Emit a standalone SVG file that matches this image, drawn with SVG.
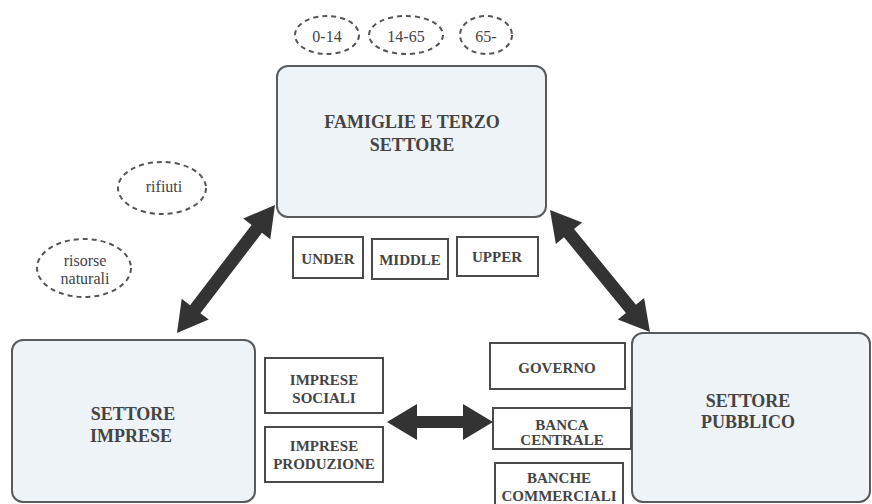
<svg xmlns="http://www.w3.org/2000/svg" width="872" height="504" viewBox="0 0 872 504">
<defs>
<polygon id="arrH" points="0,0 30,-18 30,-6 76,-6 76,-18 106,0 76,18 76,6 30,6 30,18" fill="#333"/>
</defs>
<rect width="872" height="504" fill="#fff"/>
<g fill="#edf3f6" stroke="#5a5a5a" stroke-width="2">
<g id="famiglie"><rect x="277" y="66" width="269" height="151" rx="11"/></g>
<g id="imprese"><rect x="12" y="340" width="243" height="162" rx="11"/></g>
<g id="pubblico"><rect x="632" y="333" width="238" height="169" rx="11"/></g>
</g>
<g fill="none" stroke="#555" stroke-width="2" stroke-dasharray="5 4">
<g id="e014"><ellipse cx="327" cy="35" rx="32" ry="19"/></g>
<g id="e1465"><ellipse cx="406" cy="35" rx="37" ry="19"/></g>
<g id="e65"><ellipse cx="486" cy="35" rx="26" ry="19"/></g>
<g id="rifiuti"><ellipse cx="162" cy="188" rx="44" ry="26"/></g>
<g id="risorse"><ellipse cx="84" cy="268" rx="47" ry="29"/></g>
</g>
<g fill="#fff" stroke="#4a4a4a" stroke-width="2">
<g id="under"><rect x="293" y="237" width="70" height="41"/></g>
<g id="middle"><rect x="372" y="239" width="76" height="40"/></g>
<g id="upper"><rect x="457" y="237" width="81" height="39"/></g>
<g id="sociali"><rect x="265" y="358" width="118" height="55"/></g>
<g id="produzione"><rect x="265" y="427" width="118" height="55"/></g>
<g id="governo"><rect x="490" y="343" width="135" height="46"/></g>
<g id="banca"><rect x="493" y="408" width="138" height="41"/></g>
<g id="banche"><rect x="495" y="463" width="128" height="45"/></g>
</g>
<text x="412" y="128" font-family="Liberation Serif" font-weight="bold" font-size="18" fill="#444" text-anchor="middle">FAMIGLIE E TERZO</text>
<text x="412" y="151" font-family="Liberation Serif" font-weight="bold" font-size="18" fill="#444" text-anchor="middle">SETTORE</text>
<text x="133" y="420" font-family="Liberation Serif" font-weight="bold" font-size="18" fill="#444" text-anchor="middle">SETTORE</text>
<text x="131" y="442" font-family="Liberation Serif" font-weight="bold" font-size="18" fill="#444" text-anchor="middle">IMPRESE</text>
<text x="748" y="407" font-family="Liberation Serif" font-weight="bold" font-size="18" fill="#444" text-anchor="middle">SETTORE</text>
<text x="748" y="428" font-family="Liberation Serif" font-weight="bold" font-size="18" fill="#444" text-anchor="middle">PUBBLICO</text>
<text x="327" y="42" font-family="Liberation Serif" font-size="16" fill="#444" text-anchor="middle">0-14</text>
<text x="406" y="42" font-family="Liberation Serif" font-size="16" fill="#444" text-anchor="middle">14-65</text>
<text x="486" y="42" font-family="Liberation Serif" font-size="16" fill="#444" text-anchor="middle">65-</text>
<text x="164" y="192" font-family="Liberation Serif" font-size="16" fill="#444" text-anchor="middle">rifiuti</text>
<text x="85" y="266" font-family="Liberation Serif" font-size="16" fill="#444" text-anchor="middle">risorse</text>
<text x="85" y="284" font-family="Liberation Serif" font-size="16" fill="#444" text-anchor="middle">naturali</text>
<text x="328" y="264" font-family="Liberation Serif" font-weight="bold" font-size="15" fill="#444" text-anchor="middle">UNDER</text>
<text x="410" y="265" font-family="Liberation Serif" font-weight="bold" font-size="15" fill="#444" text-anchor="middle">MIDDLE</text>
<text x="497" y="262" font-family="Liberation Serif" font-weight="bold" font-size="15" fill="#444" text-anchor="middle">UPPER</text>
<text x="324" y="385" font-family="Liberation Serif" font-weight="bold" font-size="15" fill="#444" text-anchor="middle">IMPRESE</text>
<text x="324" y="403" font-family="Liberation Serif" font-weight="bold" font-size="15" fill="#444" text-anchor="middle">SOCIALI</text>
<text x="324" y="451" font-family="Liberation Serif" font-weight="bold" font-size="15" fill="#444" text-anchor="middle">IMPRESE</text>
<text x="324" y="469" font-family="Liberation Serif" font-weight="bold" font-size="15" fill="#444" text-anchor="middle">PRODUZIONE</text>
<text x="557" y="373" font-family="Liberation Serif" font-weight="bold" font-size="15" fill="#444" text-anchor="middle">GOVERNO</text>
<text x="562" y="430" font-family="Liberation Serif" font-weight="bold" font-size="15" fill="#444" text-anchor="middle">BANCA</text>
<text x="562" y="445" font-family="Liberation Serif" font-weight="bold" font-size="15" fill="#444" text-anchor="middle">CENTRALE</text>
<text x="559" y="483" font-family="Liberation Serif" font-weight="bold" font-size="15" fill="#444" text-anchor="middle">BANCHE</text>
<text x="559" y="501" font-family="Liberation Serif" font-weight="bold" font-size="15" fill="#444" text-anchor="middle">COMMERCIALI</text>
<g id="connectors" fill="#333">
<polygon transform="translate(177,333) rotate(-52.56)" points="0,0 30,-17 30,-6.5 131.2,-6.5 131.2,-17 161.2,0 131.2,17 131.2,6.5 30,6.5 30,17"/>
<polygon transform="translate(550,210) rotate(50.66)" points="0,0 30,-17 30,-6.5 127.7,-6.5 127.7,-17 157.7,0 127.7,17 127.7,6.5 30,6.5 30,17"/>
<use href="#arrH" x="387" y="422"/>
</g>
</svg>
